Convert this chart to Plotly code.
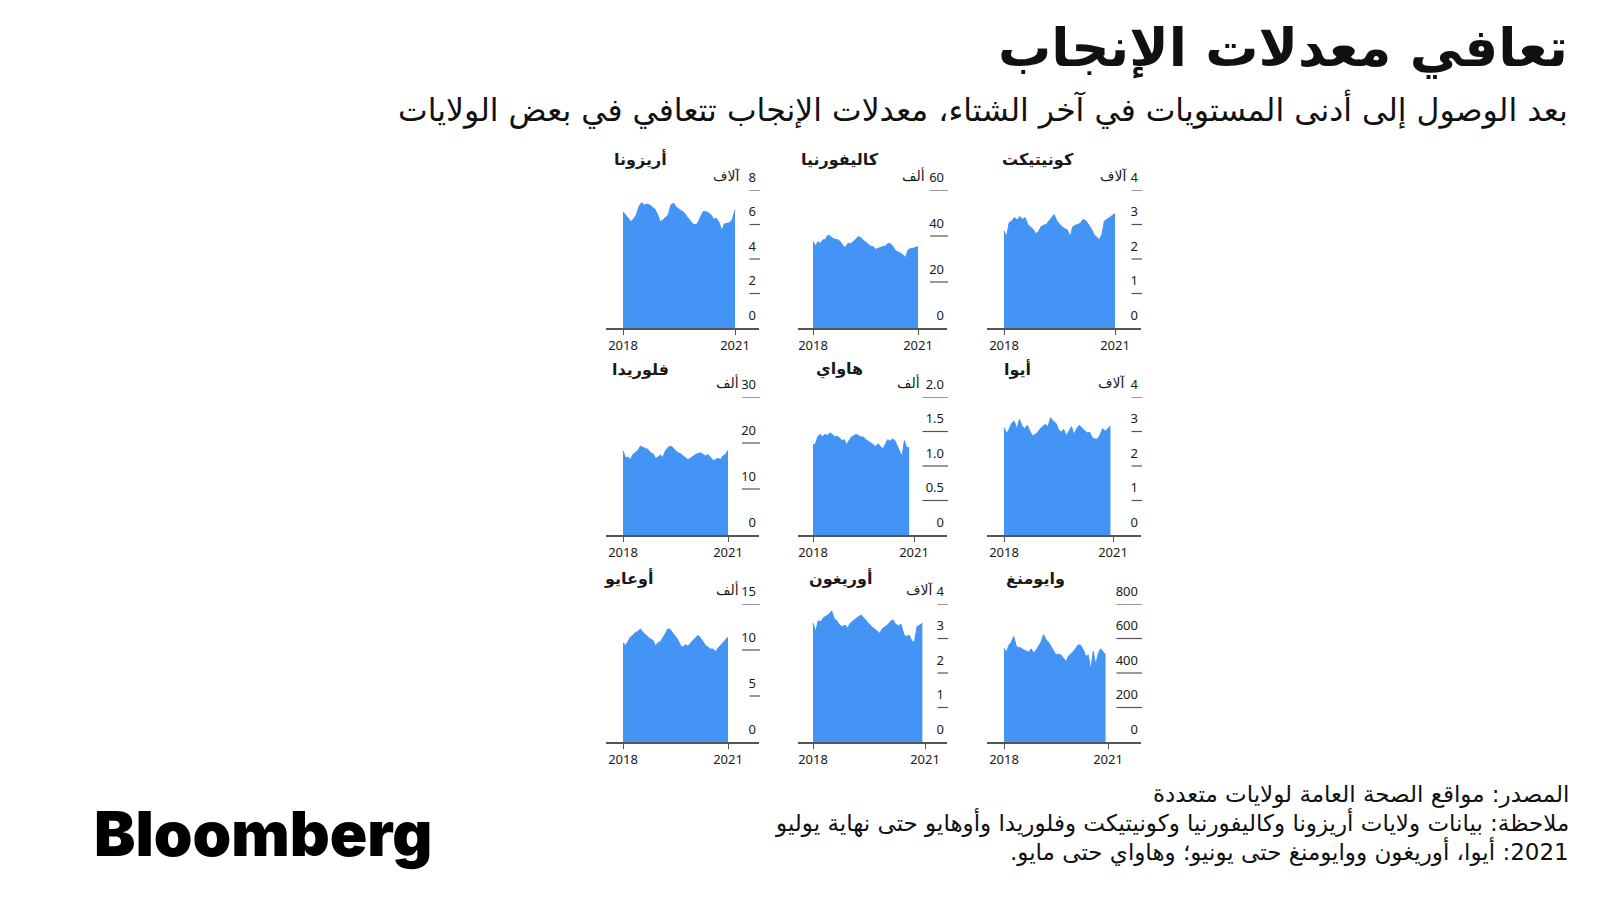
import plotly.graph_objects as go
import pandas as pd

W, H = 1600, 900

# ---------------- data ----------------
months = pd.date_range("2018-01-01", "2021-07-01", freq="MS")

state_names = ["أريزونا", "كاليفورنيا", "كونيتيكت",
               "فلوريدا", "هاواي", "أيوا",
               "أوعايو", "أوريغون", "وايومنغ"]

unit_labels = ["آلاف", "ألف", "آلاف",
               "ألف", "ألف", "آلاف",
               "ألف", "آلاف", ""]

arizona = [6.74, 6.55, 6.36, 6.16, 6.32, 6.55, 7.03, 7.27, 7.13, 7.19, 7.13, 7.0, 6.88, 6.55, 6.16,
           6.26, 6.41, 6.55, 7.13, 7.23, 7.0, 6.88, 6.8, 6.68, 6.45, 6.22, 6.07, 5.97, 6.07, 6.41,
           6.74, 6.74, 6.68, 6.55, 6.3, 6.36, 6.1, 5.64, 6.03, 6.07, 6.1, 6.3, 6.84]
california = [37.5, 35.6, 37.5, 36.8, 38.3, 38.5, 40.4, 39.9, 38.9, 38.5, 38.3, 37.5, 35.6, 35.1, 36.8,
              36.6, 37.5, 38.3, 39.7, 39.4, 38.3, 37.5, 36.8, 35.6, 35.4, 34.2, 34.6, 35.1, 35.4, 35.6,
              36.8, 36.6, 35.4, 33.6, 33.2, 32.5, 31.7, 30.7, 33.9, 34.6, 34.6, 35.1, 35.4]
connecticut = [2.81, 2.66, 3.05, 3.10, 3.20, 3.13, 3.23, 3.15, 3.20, 3.00, 2.93, 2.86, 2.74, 2.78, 2.93,
               2.98, 3.00, 3.10, 3.17, 3.29, 3.10, 3.00, 2.93, 2.88, 2.84, 2.64, 2.93, 2.98, 3.00, 3.05,
               3.15, 3.10, 3.00, 2.88, 2.71, 2.64, 2.56, 2.71, 3.10, 3.15, 3.20, 3.27, 3.32]
florida = [18.3, 16.8, 16.9, 16.4, 17.5, 17.9, 18.4, 19.3, 19.0, 18.8, 18.6, 17.9, 17.7, 16.7, 16.9,
           17.4, 16.9, 18.3, 19.0, 19.3, 19.0, 18.3, 17.9, 17.7, 17.2, 16.7, 16.4, 16.7, 17.2, 17.5,
           17.7, 17.9, 17.5, 17.2, 17.5, 16.9, 16.2, 16.4, 16.7, 16.4, 17.2, 17.5, 18.4]
hawaii = [1.31, 1.32, 1.42, 1.46, 1.42, 1.46, 1.44, 1.48, 1.46, 1.42, 1.43, 1.41, 1.37, 1.38, 1.31,
          1.36, 1.42, 1.44, 1.46, 1.44, 1.42, 1.42, 1.38, 1.36, 1.34, 1.31, 1.28, 1.32, 1.29, 1.24,
          1.31, 1.38, 1.36, 1.39, 1.37, 1.28, 1.21, 1.14, 1.37, 1.26, 1.27]
iowa = [3.11, 2.94, 3.06, 3.24, 3.30, 3.08, 3.35, 3.16, 3.08, 3.18, 3.01, 2.88, 2.91, 2.98, 3.08,
        3.14, 3.21, 3.14, 3.40, 3.30, 3.24, 3.06, 2.98, 3.06, 2.88, 3.01, 3.14, 2.91, 3.08, 3.18,
        3.11, 3.06, 2.96, 2.98, 2.81, 2.78, 2.78, 2.91, 3.08, 3.01, 3.08, 3.16]
ohio = [10.8, 10.5, 10.9, 11.4, 11.6, 11.9, 12.0, 12.3, 11.9, 11.6, 11.4, 11.2, 11.05, 10.4, 10.8,
        10.9, 11.3, 11.8, 12.3, 12.2, 11.8, 11.5, 11.05, 10.5, 10.3, 10.6, 10.4, 10.8, 11.05, 11.3,
        11.6, 11.3, 10.9, 10.5, 10.3, 10.1, 10.1, 9.8, 10.2, 10.5, 10.7, 11.05, 11.4]
oregon = [3.44, 3.20, 3.51, 3.49, 3.60, 3.66, 3.70, 3.80, 3.57, 3.51, 3.39, 3.34, 3.39, 3.30, 3.44,
          3.51, 3.57, 3.63, 3.68, 3.60, 3.51, 3.41, 3.34, 3.28, 3.22, 3.15, 3.28, 3.34, 3.39, 3.49,
          3.54, 3.41, 3.37, 3.41, 3.12, 3.05, 3.10, 2.93, 2.89, 3.34, 3.39, 3.44]
wyoming = [544, 521, 560, 579, 612, 554, 548, 544, 534, 529, 521, 540, 515, 534, 554,
           579, 622, 593, 579, 554, 525, 505, 509, 505, 486, 466, 496, 509, 525, 544,
           564, 560, 534, 496, 505, 418, 525, 447, 509, 540, 525, 505]

series = [arizona, california, connecticut, florida, hawaii, iowa, ohio, oregon, wyoming]

y_ticks = [[0, 2, 4, 6, 8], [0, 20, 40, 60], [0, 1, 2, 3, 4],
           [0, 10, 20, 30], [0, 0.5, 1.0, 1.5, 2.0], [0, 1, 2, 3, 4],
           [0, 5, 10, 15], [0, 1, 2, 3, 4], [0, 200, 400, 600, 800]]
y_tick_text = [["0", "2", "4", "6", "8"], ["0", "20", "40", "60"], ["0", "1", "2", "3", "4"],
               ["0", "10", "20", "30"], ["0", "0.5", "1.0", "1.5", "2.0"], ["0", "1", "2", "3", "4"],
               ["0", "5", "10", "15"], ["0", "1", "2", "3", "4"], ["0", "200", "400", "600", "800"]]
x_tick_text = ["2018", "2021"]

# ---------------- layout (pixels) ----------------
col_left = [598, 790, 979]
col_right = [751, 939, 1133]
col_t0 = [615, 805, 996]
panel_t1 = [727, 910, 1107, 720, 906, 1105, 720, 917, 1100]
row_base = [320, 527, 734]
row_top = [182, 389, 596]
title_off = [169, 166, 164]
title_cx = [632, 832, 1030, 632, 831, 1009, 620, 832, 1027]
unit_right = [734, 919, 1121, 733, 914, 1119, 733, 927, None]

BLUE = "#4494f5"
AXIS = "#555555"
TXT = "#1a1a1a"
AR_FONT = "DejaVu Sans"
NUM_FONT = "Noto Sans"


def rtl(s):
    return "\u202B" + s + "\u202C"


fig = go.Figure()
shapes = []
annotations = []
d0, d1 = months[0], months[-1]
span = d1 - d0

for k in range(9):
    r, c = divmod(k, 3)
    n = k + 1
    xa = "x" if n == 1 else f"x{n}"
    ya = "y" if n == 1 else f"y{n}"
    L, R = col_left[c], col_right[c]
    t0, t1 = col_t0[c], panel_t1[k]
    xr0 = d0 - span * ((t0 - L) / (t1 - t0))
    xr1 = d1 + span * ((R - t1) / (t1 - t0))
    vals = series[k]
    fig.add_trace(go.Scatter(
        x=months[:len(vals)], y=vals, mode="lines", fill="tozeroy",
        line=dict(color=BLUE, width=1), fillcolor=BLUE,
        xaxis=xa, yaxis=ya, hoverinfo="skip", showlegend=False))

    ymax = y_ticks[k][-1]
    fig.layout[("xaxis" if n == 1 else f"xaxis{n}")] = dict(
        domain=[L / W, R / W], anchor=ya, range=[xr0, xr1], automargin=False,
        showline=True, linecolor=AXIS, linewidth=1.5,
        ticks="outside", ticklen=5, tickwidth=1.2, tickcolor=AXIS,
        tickvals=[d0, d1], ticktext=x_tick_text,
        tickfont=dict(family=NUM_FONT, size=13, color=TXT),
        showgrid=False, zeroline=False, fixedrange=True)
    fig.layout[("yaxis" if n == 1 else f"yaxis{n}")] = dict(
        domain=[(H - row_base[r]) / H, (H - row_top[r]) / H], automargin=False,
        anchor="free", position=R / W, side="right", range=[0, ymax],
        tickvals=y_ticks[k], ticktext=y_tick_text[k],
        ticklabelposition="inside", ticklabeloverflow="allow",
        ticklabelshift=-13, ticks="",
        tickfont=dict(family=NUM_FONT, size=13, color=TXT),
        showgrid=False, zeroline=False, showline=False, fixedrange=True)

    # short rules under tick labels
    for v, t in zip(y_ticks[k], y_tick_text[k]):
        if v == 0:
            continue
        w = 7.5 * len(t) + 2
        shapes.append(dict(type="line", xref="paper", yref=ya,
                           x0=(R - w) / W, x1=(R + 1) / W, y0=v, y1=v,
                           line=dict(color=AXIS, width=1.2)))

    # state title
    annotations.append(dict(
        text=rtl(state_names[k]), xref="paper", yref="paper",
        x=title_cx[k] / W, y=1 - (row_base[r] - title_off[r]) / H,
        xanchor="center", yanchor="middle", showarrow=False,
        font=dict(family=AR_FONT, size=16, color=TXT, weight="bold")))
    # unit label
    if unit_right[k] is not None and unit_labels[k]:
        annotations.append(dict(
            text=rtl(unit_labels[k]), xref="paper", yref=ya,
            x=unit_right[k] / W, y=ymax, xanchor="right", yanchor="bottom",
            yshift=4, showarrow=False,
            font=dict(family=AR_FONT, size=14, color=TXT)))

# headline texts
annotations += [
    dict(text=rtl("تعافي معدلات الإنجاب"), x=1562 / W, y=1 - 40 / H,
         xanchor="right", yanchor="middle",
         font=dict(family=AR_FONT, size=53, color="#111111", weight="bold")),
    dict(text=rtl("بعد الوصول إلى أدنى المستويات في آخر الشتاء، معدلات الإنجاب تتعافي في بعض الولايات"),
         x=1562 / W, y=1 - 101 / H, xanchor="right", yanchor="middle",
         font=dict(family=AR_FONT, size=31.5, color="#111111")),
    dict(text=rtl("المصدر: مواقع الصحة العامة لولايات متعددة"),
         x=1563 / W, y=1 - 786 / H, xanchor="right", yanchor="middle",
         font=dict(family=AR_FONT, size=23, color="#111111")),
    dict(text=rtl("ملاحظة: بيانات ولايات أريزونا وكاليفورنيا وكونيتيكت وفلوريدا وأوهايو حتى نهاية يوليو"),
         x=1563 / W, y=1 - 814 / H, xanchor="right", yanchor="middle",
         font=dict(family=AR_FONT, size=23, color="#111111")),
    dict(text=rtl("2021: أيوا، أوريغون ووايومنغ حتى يونيو؛ وهاواي حتى مايو."),
         x=1563 / W, y=1 - 843 / H, xanchor="right", yanchor="middle",
         font=dict(family=AR_FONT, size=23, color="#111111")),
    dict(text="Bloomberg", x=84 / W, y=1 - 825 / H, xanchor="left", yanchor="middle",
         font=dict(family="Inter", size=62, color="#000000", weight=900)),
]
for a in annotations[-6:]:
    a.update(xref="paper", yref="paper", showarrow=False)

fig.update_layout(
    width=W, height=H, margin=dict(l=0, r=0, t=0, b=0, autoexpand=False),
    autosize=False,
    paper_bgcolor="white", plot_bgcolor="white",
    shapes=shapes, annotations=annotations, showlegend=False)

fig.write_html("out.html")
